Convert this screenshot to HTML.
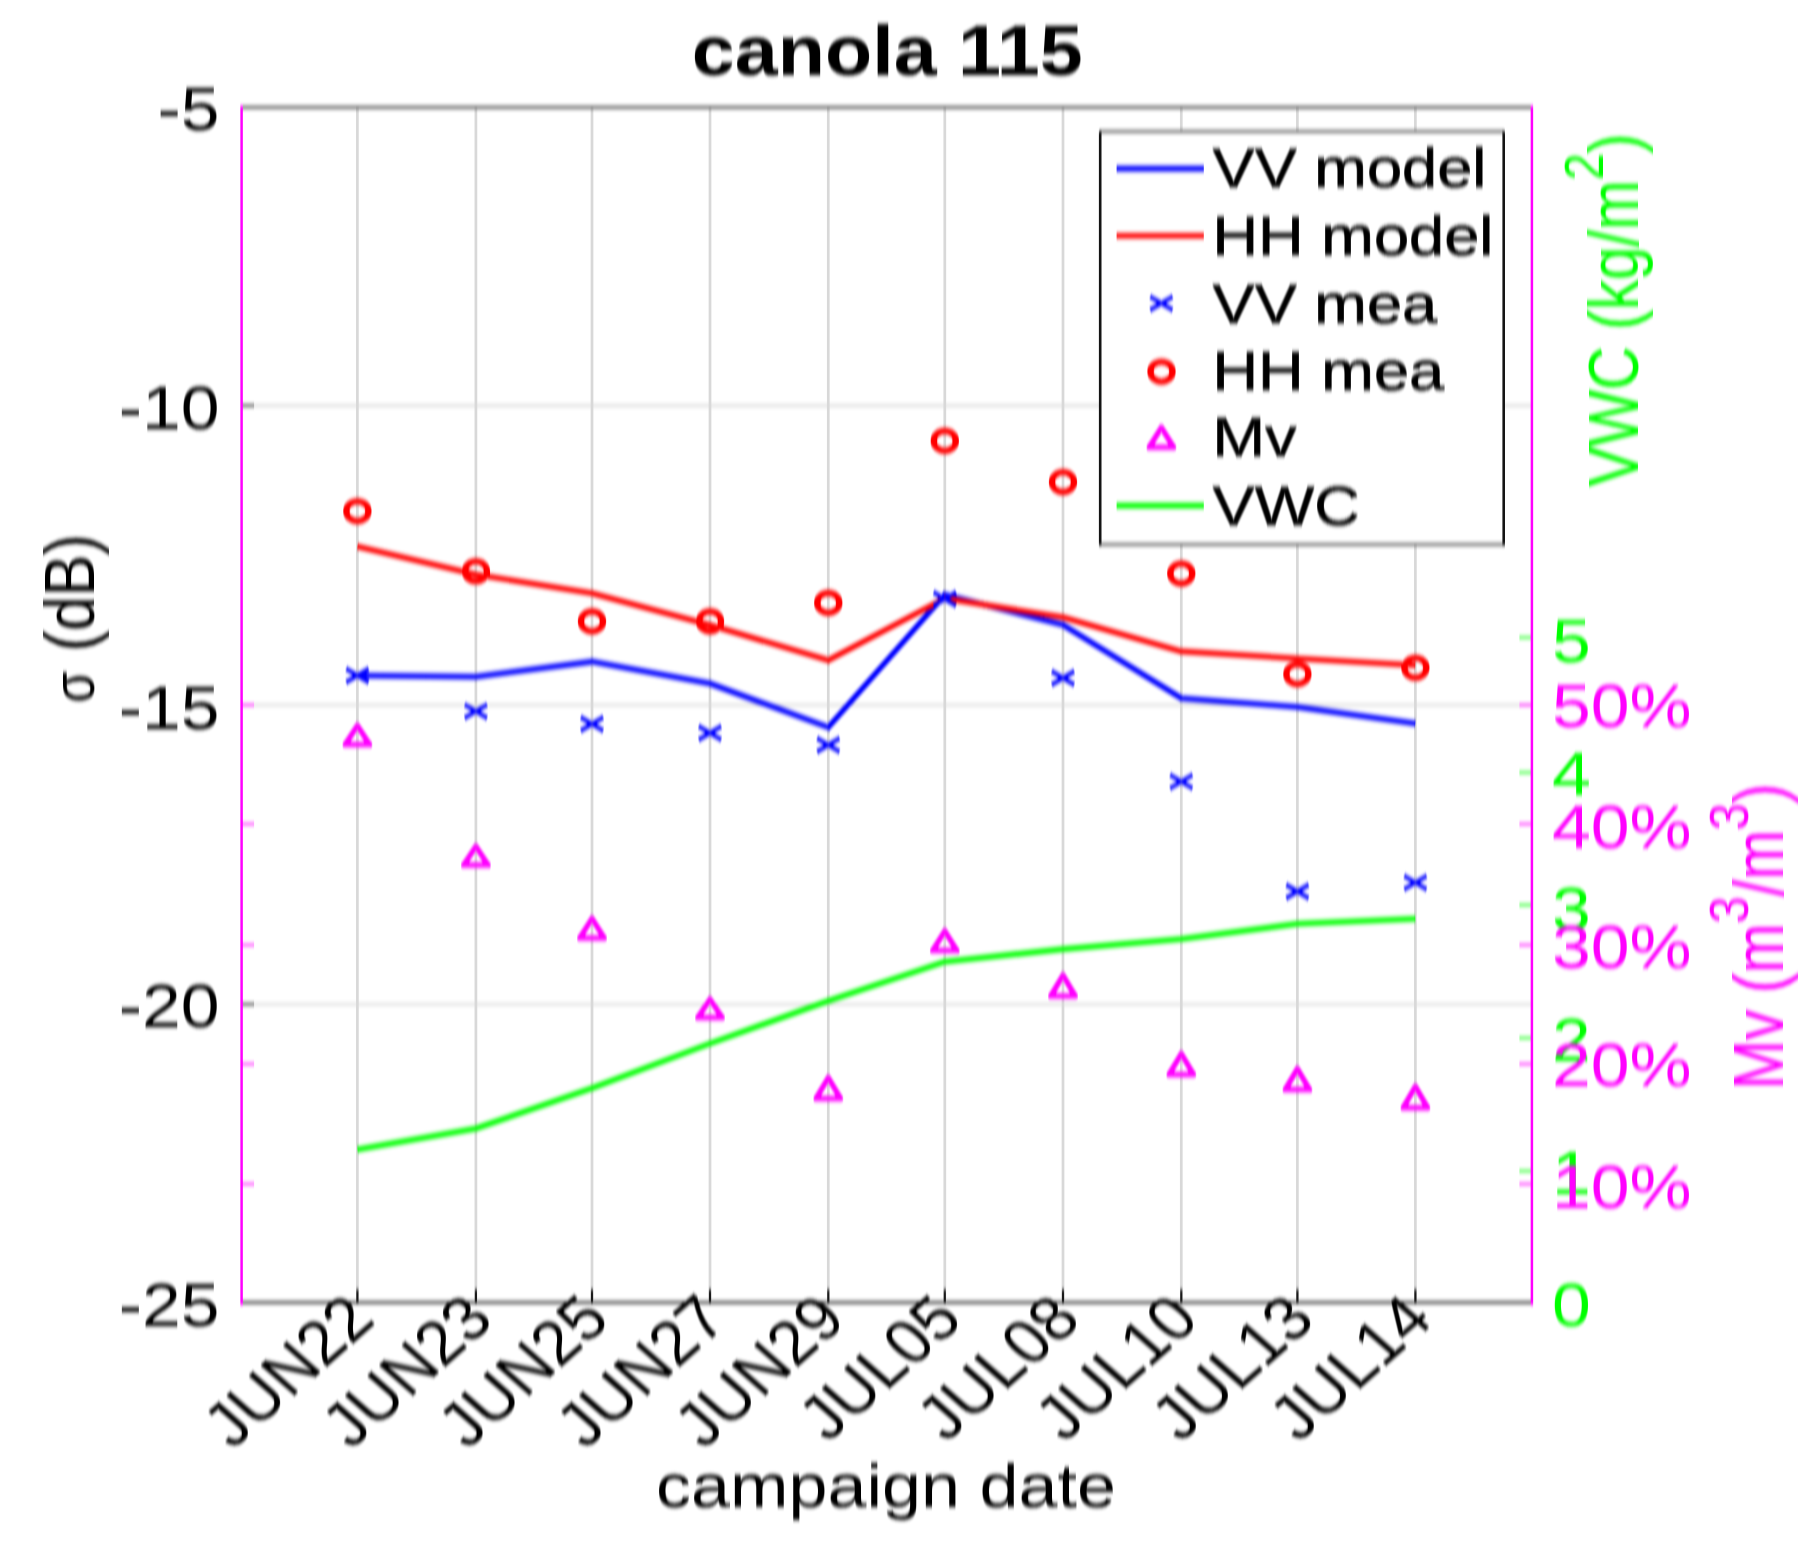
<!DOCTYPE html>
<html lang="en"><head><meta charset="utf-8"><title>canola 115</title>
<style>
html,body{margin:0;padding:0;background:#fff;}
body{width:1820px;height:1550px;overflow:hidden;}
svg{display:block;}
text{font-family:"Liberation Sans",sans-serif;}
</style></head><body>
<svg width="1820" height="1550" viewBox="0 0 1820 1550" role="img" aria-label="canola 115">
<defs><filter id="soft" filterUnits="userSpaceOnUse" x="0" y="0" width="1820" height="1550" color-interpolation-filters="sRGB"><feGaussianBlur stdDeviation="0.65 1.9"/></filter></defs>
<rect x="0" y="0" width="1820" height="1550" fill="#ffffff"/>
<g filter="url(#soft)">
<rect x="-20" y="-20" width="1860" height="1590" fill="#ffffff"/>
<g id="grid">
<line x1="241.6" y1="405.6" x2="1531.9" y2="405.6" stroke="#dcdcdc" stroke-width="2.6"/>
<line x1="241.6" y1="705.0" x2="1531.9" y2="705.0" stroke="#dcdcdc" stroke-width="2.6"/>
<line x1="241.6" y1="1004.2" x2="1531.9" y2="1004.2" stroke="#dcdcdc" stroke-width="2.6"/>
<line x1="357.4" y1="106.8" x2="357.4" y2="1302.5" stroke="#d8d8d8" stroke-width="2.7"/>
<line x1="475.9" y1="106.8" x2="475.9" y2="1302.5" stroke="#d8d8d8" stroke-width="2.7"/>
<line x1="592.0" y1="106.8" x2="592.0" y2="1302.5" stroke="#d8d8d8" stroke-width="2.7"/>
<line x1="710.0" y1="106.8" x2="710.0" y2="1302.5" stroke="#d8d8d8" stroke-width="2.7"/>
<line x1="828.3" y1="106.8" x2="828.3" y2="1302.5" stroke="#d8d8d8" stroke-width="2.7"/>
<line x1="944.8" y1="106.8" x2="944.8" y2="1302.5" stroke="#d8d8d8" stroke-width="2.7"/>
<line x1="1063.0" y1="106.8" x2="1063.0" y2="1302.5" stroke="#d8d8d8" stroke-width="2.7"/>
<line x1="1181.3" y1="106.8" x2="1181.3" y2="1302.5" stroke="#d8d8d8" stroke-width="2.7"/>
<line x1="1297.4" y1="106.8" x2="1297.4" y2="1302.5" stroke="#d8d8d8" stroke-width="2.7"/>
<line x1="1415.4" y1="106.8" x2="1415.4" y2="1302.5" stroke="#d8d8d8" stroke-width="2.7"/>
</g>
<g id="axes">
<line x1="241.6" y1="107.4" x2="1531.9" y2="107.4" stroke="#262626" stroke-width="2.3"/>
<line x1="241.6" y1="1302.5" x2="1531.9" y2="1302.5" stroke="#262626" stroke-width="2.3"/>
<line x1="241.6" y1="405.6" x2="254.1" y2="405.6" stroke="#262626" stroke-width="2.1"/>
<line x1="241.6" y1="1004.2" x2="254.1" y2="1004.2" stroke="#262626" stroke-width="2.1"/>
<line x1="241.6" y1="705.0" x2="254.1" y2="705.0" stroke="#ff00ff" stroke-width="2.0"/>
<line x1="1519.4" y1="705.0" x2="1531.9" y2="705.0" stroke="#ff00ff" stroke-width="2.0"/>
<line x1="241.6" y1="824.0" x2="254.1" y2="824.0" stroke="#ff00ff" stroke-width="2.0"/>
<line x1="1519.4" y1="824.0" x2="1531.9" y2="824.0" stroke="#ff00ff" stroke-width="2.0"/>
<line x1="241.6" y1="945.0" x2="254.1" y2="945.0" stroke="#ff00ff" stroke-width="2.0"/>
<line x1="1519.4" y1="945.0" x2="1531.9" y2="945.0" stroke="#ff00ff" stroke-width="2.0"/>
<line x1="241.6" y1="1064.0" x2="254.1" y2="1064.0" stroke="#ff00ff" stroke-width="2.0"/>
<line x1="1519.4" y1="1064.0" x2="1531.9" y2="1064.0" stroke="#ff00ff" stroke-width="2.0"/>
<line x1="241.6" y1="1184.0" x2="254.1" y2="1184.0" stroke="#ff00ff" stroke-width="2.0"/>
<line x1="1519.4" y1="1184.0" x2="1531.9" y2="1184.0" stroke="#ff00ff" stroke-width="2.0"/>
<line x1="1519.4" y1="637.5" x2="1531.9" y2="637.5" stroke="#00ff00" stroke-width="2.0"/>
<line x1="1519.4" y1="772.5" x2="1531.9" y2="772.5" stroke="#00ff00" stroke-width="2.0"/>
<line x1="1519.4" y1="905.0" x2="1531.9" y2="905.0" stroke="#00ff00" stroke-width="2.0"/>
<line x1="1519.4" y1="1038.0" x2="1531.9" y2="1038.0" stroke="#00ff00" stroke-width="2.0"/>
<line x1="1519.4" y1="1171.0" x2="1531.9" y2="1171.0" stroke="#00ff00" stroke-width="2.0"/>
<line x1="357.4" y1="1289.5" x2="357.4" y2="1303.5" stroke="#1a1a1a" stroke-width="2.2"/>
<line x1="475.9" y1="1289.5" x2="475.9" y2="1303.5" stroke="#1a1a1a" stroke-width="2.2"/>
<line x1="592.0" y1="1289.5" x2="592.0" y2="1303.5" stroke="#1a1a1a" stroke-width="2.2"/>
<line x1="710.0" y1="1289.5" x2="710.0" y2="1303.5" stroke="#1a1a1a" stroke-width="2.2"/>
<line x1="828.3" y1="1289.5" x2="828.3" y2="1303.5" stroke="#1a1a1a" stroke-width="2.2"/>
<line x1="944.8" y1="1289.5" x2="944.8" y2="1303.5" stroke="#1a1a1a" stroke-width="2.2"/>
<line x1="1063.0" y1="1289.5" x2="1063.0" y2="1303.5" stroke="#1a1a1a" stroke-width="2.2"/>
<line x1="1181.3" y1="1289.5" x2="1181.3" y2="1303.5" stroke="#1a1a1a" stroke-width="2.2"/>
<line x1="1297.4" y1="1289.5" x2="1297.4" y2="1303.5" stroke="#1a1a1a" stroke-width="2.2"/>
<line x1="1415.4" y1="1289.5" x2="1415.4" y2="1303.5" stroke="#1a1a1a" stroke-width="2.2"/>
<line x1="241.6" y1="105.8" x2="241.6" y2="1305.0" stroke="#ff00ff" stroke-width="2.5"/>
<line x1="1531.9" y1="105.8" x2="1531.9" y2="1305.0" stroke="#ff00ff" stroke-width="2.5"/>
</g>
<g id="data">
<polyline points="357.4,1149.5 475.9,1128.5 592.0,1088.1 710.0,1043.5 828.3,1000.9 944.8,961.7 1063.0,949.1 1181.3,939.0 1297.4,923.8 1415.4,918.8" fill="none" stroke="#00ff00" stroke-width="5.6" stroke-linejoin="miter"/>
<path d="M357.4 725.8L369.6 744.6L345.2 744.6Z" fill="none" stroke="#ff00ff" stroke-width="5.5" stroke-linejoin="round"/>
<path d="M475.9 846.6L488.1 865.1L463.7 865.1Z" fill="none" stroke="#ff00ff" stroke-width="5.5" stroke-linejoin="round"/>
<path d="M592.0 918.6L604.2 937.9L579.8 937.9Z" fill="none" stroke="#ff00ff" stroke-width="5.5" stroke-linejoin="round"/>
<path d="M710.0 999.5L722.2 1017.5L697.8 1017.5Z" fill="none" stroke="#ff00ff" stroke-width="5.5" stroke-linejoin="round"/>
<path d="M828.3 1077.8L840.5 1098.4L816.1 1098.4Z" fill="none" stroke="#ff00ff" stroke-width="5.5" stroke-linejoin="round"/>
<path d="M944.8 931.2L957.0 950.6L932.6 950.6Z" fill="none" stroke="#ff00ff" stroke-width="5.5" stroke-linejoin="round"/>
<path d="M1063.0 975.4L1075.2 996.0L1050.8 996.0Z" fill="none" stroke="#ff00ff" stroke-width="5.5" stroke-linejoin="round"/>
<path d="M1181.3 1053.8L1193.5 1074.4L1169.1 1074.4Z" fill="none" stroke="#ff00ff" stroke-width="5.5" stroke-linejoin="round"/>
<path d="M1297.4 1069.0L1309.6 1089.6L1285.2 1089.6Z" fill="none" stroke="#ff00ff" stroke-width="5.5" stroke-linejoin="round"/>
<path d="M1415.4 1086.6L1427.6 1107.7L1403.2 1107.7Z" fill="none" stroke="#ff00ff" stroke-width="5.5" stroke-linejoin="round"/>
<polyline points="357.4,675.5 475.9,676.7 592.0,661.6 710.0,683.5 828.3,727.3 944.8,594.6 1063.0,624.9 1181.3,698.2 1297.4,707.0 1415.4,723.4" fill="none" stroke="#0000ff" stroke-width="5.6" stroke-linejoin="miter"/>
<polyline points="357.4,546.6 475.9,574.4 592.0,593.3 710.0,625.0 828.3,660.3 944.8,598.4 1063.0,617.3 1181.3,651.4 1297.4,658.5 1415.4,665.3" fill="none" stroke="#ff0000" stroke-width="5.6" stroke-linejoin="miter"/>
<path d="M346.2 668.9L368.6 682.1M346.2 682.1L368.6 668.9" stroke="#0000ff" stroke-width="4.2" fill="none"/>
<path d="M464.7 704.7L487.1 717.9M464.7 717.9L487.1 704.7" stroke="#0000ff" stroke-width="4.2" fill="none"/>
<path d="M580.8 717.4L603.2 730.6M580.8 730.6L603.2 717.4" stroke="#0000ff" stroke-width="4.2" fill="none"/>
<path d="M698.8 726.4L721.2 739.6M698.8 739.6L721.2 726.4" stroke="#0000ff" stroke-width="4.2" fill="none"/>
<path d="M817.1 738.4L839.5 751.6M817.1 751.6L839.5 738.4" stroke="#0000ff" stroke-width="4.2" fill="none"/>
<path d="M933.6 592.4L956.0 605.6M933.6 605.6L956.0 592.4" stroke="#0000ff" stroke-width="4.2" fill="none"/>
<path d="M1051.8 671.4L1074.2 684.6M1051.8 684.6L1074.2 671.4" stroke="#0000ff" stroke-width="4.2" fill="none"/>
<path d="M1170.1 775.0L1192.5 788.2M1170.1 788.2L1192.5 775.0" stroke="#0000ff" stroke-width="4.2" fill="none"/>
<path d="M1286.2 884.9L1308.6 898.1M1286.2 898.1L1308.6 884.9" stroke="#0000ff" stroke-width="4.2" fill="none"/>
<path d="M1404.2 876.0L1426.6 889.2M1404.2 889.2L1426.6 876.0" stroke="#0000ff" stroke-width="4.2" fill="none"/>
<ellipse cx="357.4" cy="511.2" rx="11.1" ry="9.9" fill="none" stroke="#ff0000" stroke-width="6.3"/>
<ellipse cx="475.9" cy="571.3" rx="11.1" ry="9.9" fill="none" stroke="#ff0000" stroke-width="6.3"/>
<ellipse cx="592.0" cy="621.4" rx="11.1" ry="9.9" fill="none" stroke="#ff0000" stroke-width="6.3"/>
<ellipse cx="710.0" cy="621.4" rx="11.1" ry="9.9" fill="none" stroke="#ff0000" stroke-width="6.3"/>
<ellipse cx="828.3" cy="602.9" rx="11.1" ry="9.9" fill="none" stroke="#ff0000" stroke-width="6.3"/>
<ellipse cx="944.8" cy="440.9" rx="11.1" ry="9.9" fill="none" stroke="#ff0000" stroke-width="6.3"/>
<ellipse cx="1063.0" cy="482.1" rx="11.1" ry="9.9" fill="none" stroke="#ff0000" stroke-width="6.3"/>
<ellipse cx="1181.3" cy="573.6" rx="11.1" ry="9.9" fill="none" stroke="#ff0000" stroke-width="6.3"/>
<ellipse cx="1297.4" cy="674.2" rx="11.1" ry="9.9" fill="none" stroke="#ff0000" stroke-width="6.3"/>
<ellipse cx="1415.4" cy="667.8" rx="11.1" ry="9.9" fill="none" stroke="#ff0000" stroke-width="6.3"/>
</g>
<g id="legend">
<rect x="1099.8" y="130.3" width="403.9" height="414.1" fill="#ffffff"/>
<line x1="1099.8" y1="131.5" x2="1503.7" y2="131.5" stroke="#262626" stroke-width="2.0"/>
<line x1="1099.8" y1="544.4" x2="1503.7" y2="544.4" stroke="#262626" stroke-width="2.0"/>
<line x1="1100.2" y1="131.3" x2="1100.2" y2="545.4" stroke="#141414" stroke-width="2.6"/>
<line x1="1503.7" y1="131.3" x2="1503.7" y2="545.4" stroke="#141414" stroke-width="2.6"/>
<line x1="1116.6" y1="168.6" x2="1203.8" y2="168.6" stroke="#0000ff" stroke-width="5.6"/>
<line x1="1116.6" y1="235.8" x2="1203.8" y2="235.8" stroke="#ff0000" stroke-width="5.6"/>
<path d="M1150.2 296.7L1172.6 309.9M1150.2 309.9L1172.6 296.7" stroke="#0000ff" stroke-width="4.2" fill="none"/>
<ellipse cx="1161.5" cy="371.7" rx="11.1" ry="9.9" fill="none" stroke="#ff0000" stroke-width="6.3"/>
<path d="M1161.4 427.6L1173.6 447.2L1149.2 447.2Z" fill="none" stroke="#ff00ff" stroke-width="5.5" stroke-linejoin="round"/>
<line x1="1116.6" y1="505.6" x2="1203.8" y2="505.6" stroke="#00ff00" stroke-width="5.6"/>
</g>
<g id="labels">
<text transform="translate(887.3 75.0) scale(1.1120 1.0000)" font-size="69.5" text-anchor="middle" fill="#000" font-weight="bold">canola 115</text>
<text transform="translate(219.5 130.0) scale(1.1250 1.0000)" font-size="62" text-anchor="end" fill="#000" font-weight="normal">-5</text>
<text transform="translate(219.5 429.3) scale(1.1250 1.0000)" font-size="62" text-anchor="end" fill="#000" font-weight="normal">-10</text>
<text transform="translate(219.5 729.0) scale(1.1250 1.0000)" font-size="62" text-anchor="end" fill="#000" font-weight="normal">-15</text>
<text transform="translate(219.5 1026.6) scale(1.1250 1.0000)" font-size="62" text-anchor="end" fill="#000" font-weight="normal">-20</text>
<text transform="translate(219.5 1325.9) scale(1.1250 1.0000)" font-size="62" text-anchor="end" fill="#000" font-weight="normal">-25</text>
<text transform="translate(1552.0 662.2) scale(1.1250 1.0000)" font-size="62" text-anchor="start" fill="#00ff00" font-weight="normal">5</text>
<text transform="translate(1552.0 794.7) scale(1.1250 1.0000)" font-size="62" text-anchor="start" fill="#00ff00" font-weight="normal">4</text>
<text transform="translate(1552.0 929.7) scale(1.1250 1.0000)" font-size="62" text-anchor="start" fill="#00ff00" font-weight="normal">3</text>
<text transform="translate(1552.0 1060.8) scale(1.1250 1.0000)" font-size="62" text-anchor="start" fill="#00ff00" font-weight="normal">2</text>
<text transform="translate(1552.0 1194.0) scale(1.1250 1.0000)" font-size="62" text-anchor="start" fill="#00ff00" font-weight="normal">1</text>
<text transform="translate(1552.0 1326.1) scale(1.1250 1.0000)" font-size="62" text-anchor="start" fill="#00ff00" font-weight="normal">0</text>
<text transform="translate(1552.0 727.3) scale(1.1250 1.0000)" font-size="62" text-anchor="start" fill="#ff00ff" font-weight="normal">50%</text>
<text transform="translate(1552.0 848.0) scale(1.1250 1.0000)" font-size="62" text-anchor="start" fill="#ff00ff" font-weight="normal">40%</text>
<text transform="translate(1552.0 967.7) scale(1.1250 1.0000)" font-size="62" text-anchor="start" fill="#ff00ff" font-weight="normal">30%</text>
<text transform="translate(1552.0 1086.3) scale(1.1250 1.0000)" font-size="62" text-anchor="start" fill="#ff00ff" font-weight="normal">20%</text>
<text transform="translate(1552.0 1207.6) scale(1.1250 1.0000)" font-size="62" text-anchor="start" fill="#ff00ff" font-weight="normal">10%</text>
<text transform="translate(377.4 1322.0) scale(1.13 1) rotate(-45) scale(0.955 1)" font-size="62" text-anchor="end" fill="#000">JUN22</text>
<text transform="translate(495.9 1322.0) scale(1.13 1) rotate(-45) scale(0.955 1)" font-size="62" text-anchor="end" fill="#000">JUN23</text>
<text transform="translate(612.0 1322.0) scale(1.13 1) rotate(-45) scale(0.955 1)" font-size="62" text-anchor="end" fill="#000">JUN25</text>
<text transform="translate(730.0 1322.0) scale(1.13 1) rotate(-45) scale(0.955 1)" font-size="62" text-anchor="end" fill="#000">JUN27</text>
<text transform="translate(848.3 1322.0) scale(1.13 1) rotate(-45) scale(0.955 1)" font-size="62" text-anchor="end" fill="#000">JUN29</text>
<text transform="translate(964.8 1322.0) scale(1.13 1) rotate(-45) scale(0.955 1)" font-size="62" text-anchor="end" fill="#000">JUL05</text>
<text transform="translate(1083.0 1322.0) scale(1.13 1) rotate(-45) scale(0.955 1)" font-size="62" text-anchor="end" fill="#000">JUL08</text>
<text transform="translate(1201.3 1322.0) scale(1.13 1) rotate(-45) scale(0.955 1)" font-size="62" text-anchor="end" fill="#000">JUL10</text>
<text transform="translate(1317.4 1322.0) scale(1.13 1) rotate(-45) scale(0.955 1)" font-size="62" text-anchor="end" fill="#000">JUL13</text>
<text transform="translate(1435.4 1322.0) scale(1.13 1) rotate(-45) scale(0.955 1)" font-size="62" text-anchor="end" fill="#000">JUL14</text>
<text transform="translate(886.0 1507.0) scale(1.1590 1.0000)" font-size="60.5" text-anchor="middle" fill="#000" font-weight="normal">campaign date</text>
<text transform="translate(93.5 702.5) rotate(-90) scale(1.0000 1.1700)" font-size="50" text-anchor="start" fill="#000" font-weight="normal">σ</text>
<text transform="translate(93.5 651.5) rotate(-90) scale(1.0350 1.1700)" font-size="60" text-anchor="start" fill="#000" font-weight="normal">(dB)</text>
<text transform="translate(1638.0 310.0) rotate(-90) scale(1.0000 1.1700)" font-size="60" text-anchor="middle" fill="#00ff00" font-weight="normal">VWC (kg/m<tspan font-size="48" dy="-30">2</tspan><tspan dy="30">)</tspan></text>
<text transform="translate(1782.7 936.5) rotate(-90) scale(1.0000 1.1700)" font-size="60" text-anchor="middle" fill="#ff00ff" font-weight="normal">Mv (m<tspan font-size="48" dy="-30">3</tspan><tspan dy="30">/m</tspan><tspan font-size="48" dy="-30">3</tspan><tspan dy="30">)</tspan></text>
</g>
<g id="legendtext">
<text transform="translate(1212.5 187.0) scale(1.1530 1.0000)" font-size="54.8" text-anchor="start" fill="#000" font-weight="normal" stroke="#000" stroke-width="0.7">VV model</text>
<text transform="translate(1212.5 255.0) scale(1.1530 1.0000)" font-size="54.8" text-anchor="start" fill="#000" font-weight="normal" stroke="#000" stroke-width="0.7">HH model</text>
<text transform="translate(1212.5 323.0) scale(1.1530 1.0000)" font-size="54.8" text-anchor="start" fill="#000" font-weight="normal" stroke="#000" stroke-width="0.7">VV mea</text>
<text transform="translate(1212.5 390.0) scale(1.1530 1.0000)" font-size="54.8" text-anchor="start" fill="#000" font-weight="normal" stroke="#000" stroke-width="0.7">HH mea</text>
<text transform="translate(1212.5 456.4) scale(1.1530 1.0000)" font-size="54.8" text-anchor="start" fill="#000" font-weight="normal" stroke="#000" stroke-width="0.7">Mv</text>
<text transform="translate(1212.5 525.0) scale(1.1530 1.0000)" font-size="54.8" text-anchor="start" fill="#000" font-weight="normal" stroke="#000" stroke-width="0.7">VWC</text>
</g>
</g>
</svg>
</body></html>
